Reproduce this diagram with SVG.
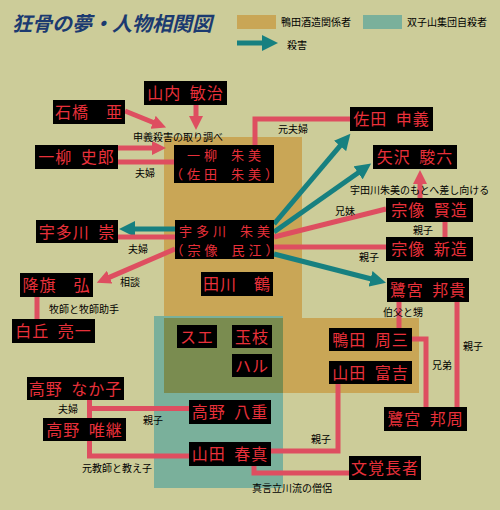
<svg xmlns="http://www.w3.org/2000/svg" width="500" height="510" viewBox="0 0 500 510">
<style>
.lbl{font-family:"Noto Sans CJK JP","Noto Sans",sans-serif;font-size:10px;fill:#000}
.nt{font-family:"Noto Sans CJK JP","Noto Sans",sans-serif;font-size:16px;fill:#E8303A;letter-spacing:1px;word-spacing:4px;text-anchor:middle}
.nt2{font-size:13px;letter-spacing:4px;word-spacing:3px}
.box{fill:#000}
.p{stroke:#DE4E60;stroke-width:5;fill:none}
.t{stroke:#178080;stroke-width:5;fill:none}
</style>
<defs>
<marker id="ahp" markerUnits="userSpaceOnUse" markerWidth="15" markerHeight="14" refX="1" refY="7" orient="auto"><path d="M0,0 L14,7 L0,14 z" fill="#DE4E60"/></marker>
<marker id="aht" markerUnits="userSpaceOnUse" markerWidth="17" markerHeight="16" refX="1" refY="8" orient="auto"><path d="M0,0 L16,8 L0,16 z" fill="#178080"/></marker>
</defs>
<rect width="500" height="510" fill="#CCCC99"/>
<g id="regions">
<path d="M165,137 H302 V318 H419 V393 H164 V137 z" fill="#C9A656"/>
<rect x="154" y="316" width="129" height="172" fill="#7AB09B"/>
<rect x="164" y="318" width="119" height="75" fill="#7A8C50"/>
</g>
<g id="title">
<text x="12" y="31" font-family="Noto Sans CJK JP,sans-serif" font-size="20" font-weight="bold" font-style="italic" fill="#1B3A70">狂骨の夢・人物相関図</text>
</g>
<g id="legend">
<rect x="237" y="15" width="39" height="14" fill="#C9A656"/>
<text class="lbl" x="281" y="26">鴨田酒造関係者</text>
<rect x="363" y="15" width="39" height="14" fill="#7AB09B"/>
<text class="lbl" x="407" y="26">双子山集団自殺者</text>
<line class="t" x1="237" y1="43" x2="263" y2="43" marker-end="url(#aht)"/>
<text class="lbl" x="287" y="49">殺害</text>
</g>
<g id="connectors">
<line class="p" x1="196" y1="105" x2="196" y2="117" marker-end="url(#ahp)"/>
<line class="p" x1="125" y1="111" x2="154" y2="122.7" marker-end="url(#ahp)"/>
<line class="p" x1="118" y1="148" x2="153" y2="148" marker-end="url(#ahp)"/>
<line class="p" x1="118" y1="162" x2="174" y2="162"/>
<polyline class="p" points="255,145 255,119 350,119"/>
<line class="t" x1="274" y1="224" x2="340.7" y2="145.2" marker-end="url(#aht)"/>
<line class="t" x1="274" y1="232" x2="358.9" y2="172.2" marker-end="url(#aht)"/>
<line class="t" x1="175" y1="229" x2="134" y2="229" marker-end="url(#aht)"/>
<line class="p" x1="118" y1="237" x2="175" y2="237"/>
<line class="p" x1="175" y1="249" x2="108.7" y2="277.6" marker-end="url(#ahp)"/>
<line class="p" x1="274" y1="237" x2="386" y2="209"/>
<line class="p" x1="274" y1="247" x2="386" y2="247"/>
<line class="p" x1="445" y1="222" x2="445" y2="237"/>
<line class="p" x1="420" y1="198" x2="420" y2="183" marker-end="url(#ahp)"/>
<line class="t" x1="274" y1="254" x2="371.5" y2="279" marker-end="url(#aht)"/>
<line class="p" x1="37" y1="297" x2="37" y2="319"/>
<line class="p" x1="399" y1="302" x2="399" y2="328"/>
<line class="p" x1="457" y1="302" x2="457" y2="407"/>
<polyline class="p" points="412,339 426,339 426,407"/>
<polyline class="p" points="338,384 338,451 271,451"/>
<polyline class="p" points="254,466 254,473 349,473"/>
<line class="p" x1="89.5" y1="399" x2="89.5" y2="418"/>
<line class="p" x1="89.5" y1="408.5" x2="189" y2="408.5"/>
<polyline class="p" points="89.5,441 89.5,456 189,456"/>
</g>
<g id="labels">
<text class="lbl" x="133" y="141">申義殺害の取り調べ</text>
<text class="lbl" x="135" y="177">夫婦</text>
<text class="lbl" x="278" y="133">元夫婦</text>
<text class="lbl" x="350" y="194">宇田川朱美のもとへ差し向ける</text>
<text class="lbl" x="335" y="215">兄妹</text>
<text class="lbl" x="413" y="234">親子</text>
<text class="lbl" x="359" y="261">親子</text>
<text class="lbl" x="128" y="253">夫婦</text>
<text class="lbl" x="120" y="286">相談</text>
<text class="lbl" x="49" y="313">牧師と牧師助手</text>
<text class="lbl" x="383" y="316">伯父と甥</text>
<text class="lbl" x="463" y="350">親子</text>
<text class="lbl" x="432" y="369">兄弟</text>
<text class="lbl" x="311" y="443">親子</text>
<text class="lbl" x="252" y="492">真言立川流の僧侶</text>
<text class="lbl" x="58" y="413">夫婦</text>
<text class="lbl" x="143" y="424">親子</text>
<text class="lbl" x="82" y="472">元教師と教え子</text>
</g>
<g id="n-yamauchi"><rect class="box" x="144" y="81" width="83" height="24"/><text class="nt" x="185.5" y="99">山内 敏治</text></g>
<g id="n-ishibashi"><rect class="box" x="53" y="100" width="72" height="24"/><text class="nt" x="89" y="118">石橋　亜</text></g>
<g id="n-sada-nobuyoshi"><rect class="box" x="350" y="107" width="83" height="24"/><text class="nt" x="391.5" y="125">佐田 申義</text></g>
<g id="n-ichiyanagi-shiro"><rect class="box" x="35" y="145" width="83" height="24"/><text class="nt" x="76.5" y="163">一柳 史郎</text></g>
<g id="n-ichiyanagi-akemi"><rect class="box" x="174" y="145" width="100" height="38"/><text class="nt nt2" x="226" y="160">一柳 朱美</text><text class="nt nt2" x="226" y="179">（佐田 朱美）</text></g>
<g id="n-yazawa"><rect class="box" x="373" y="145" width="84" height="24"/><text class="nt" x="415" y="163">矢沢 駿六</text></g>
<g id="n-munakata-kenzo"><rect class="box" x="386" y="198" width="87" height="24"/><text class="nt" x="429.5" y="216">宗像 賢造</text></g>
<g id="n-udagawa-takashi"><rect class="box" x="36" y="220" width="82" height="23"/><text class="nt" x="77" y="237.5">宇多川 崇</text></g>
<g id="n-udagawa-akemi"><rect class="box" x="175" y="220" width="99" height="39"/><text class="nt nt2" x="226.5" y="235.5">宇多川 朱美</text><text class="nt nt2" x="226.5" y="254.5">（宗像 民江）</text></g>
<g id="n-munakata-shinzo"><rect class="box" x="386" y="237" width="87" height="24"/><text class="nt" x="429.5" y="255">宗像 新造</text></g>
<g id="n-furuhata"><rect class="box" x="20" y="273" width="73" height="24"/><text class="nt" x="56.5" y="291">降旗　弘</text></g>
<g id="n-tagawa"><rect class="box" x="201" y="272" width="72" height="24"/><text class="nt" x="237" y="290">田川　鶴</text></g>
<g id="n-saginomiya-kuniyoshi"><rect class="box" x="387" y="278" width="82" height="24"/><text class="nt" x="428" y="296">鷺宮 邦貴</text></g>
<g id="n-shiraoka"><rect class="box" x="12" y="319" width="83" height="24"/><text class="nt" x="53.5" y="337">白丘 亮一</text></g>
<g id="n-sue"><rect class="box" x="177" y="325" width="40" height="23"/><text class="nt" x="197" y="342.5">スエ</text></g>
<g id="n-tamae"><rect class="box" x="232" y="325" width="40" height="23"/><text class="nt" x="252" y="342.5">玉枝</text></g>
<g id="n-haru"><rect class="box" x="232" y="354" width="40" height="23"/><text class="nt" x="252" y="371.5">ハル</text></g>
<g id="n-kamota"><rect class="box" x="329" y="328" width="83" height="23"/><text class="nt" x="370.5" y="345.5">鴨田 周三</text></g>
<g id="n-yamada-tomikichi"><rect class="box" x="329" y="361" width="83" height="23"/><text class="nt" x="370.5" y="378.5">山田 富吉</text></g>
<g id="n-takano-nakako"><rect class="box" x="27" y="377" width="97" height="23"/><text class="nt" x="75.5" y="394.5">高野 なか子</text></g>
<g id="n-saginomiya-kunichika"><rect class="box" x="384" y="407" width="83" height="24"/><text class="nt" x="425.5" y="425">鷺宮 邦周</text></g>
<g id="n-takano-tadatsugu"><rect class="box" x="43" y="418" width="83" height="23"/><text class="nt" x="84.5" y="435.5">高野 唯継</text></g>
<g id="n-takano-yae"><rect class="box" x="189" y="400" width="82" height="24"/><text class="nt" x="230" y="418">高野 八重</text></g>
<g id="n-yamada-haruma"><rect class="box" x="189" y="442" width="82" height="24"/><text class="nt" x="230" y="460">山田 春真</text></g>
<g id="n-monkaku"><rect class="box" x="349" y="456" width="72" height="24"/><text class="nt" x="385" y="474">文覚長者</text></g>
</svg>
